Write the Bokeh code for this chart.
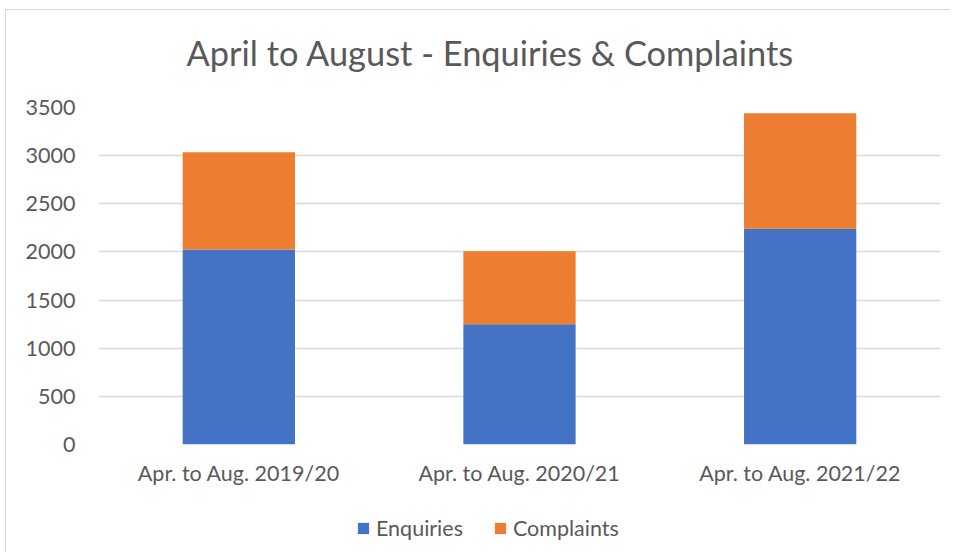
from bokeh.plotting import figure
from bokeh.layouts import column
from bokeh.models import FactorRange, Range1d, Legend, LegendItem, SingleIntervalTicker, Label
from bokeh.embed import file_html
from bokeh.resources import INLINE

title_text = "April to August - Enquiries & Complaints"
periods = ["Apr. to Aug. 2019/20", "Apr. to Aug. 2020/21", "Apr. to Aug. 2021/22"]
enquiries = [2025, 1250, 2240]
complaints = [1011, 757, 1200]
series = ["Enquiries", "Complaints"]
colors = ["#4472C4", "#ED7D31"]

FONT = "Lato"
TXT = "#595959"

data = {"periods": periods, "Enquiries": enquiries, "Complaints": complaints}

# title strip
t = figure(x_range=Range1d(0, 1), y_range=Range1d(0, 1),
           frame_width=944, frame_height=83, output_backend="svg", toolbar_location=None,
           x_axis_location=None, y_axis_location=None,
           min_border_left=0, min_border_right=0, min_border_top=0, min_border_bottom=0)
t.grid.visible = False
t.outline_line_color = None
t.add_layout(Label(x=88, y=41, x_units="screen", y_units="screen", text=title_text,
                   text_font=FONT, text_font_size="34.4px", text_color=TXT,
                   text_align="left", text_baseline="alphabetic"))

# main chart
p = figure(x_range=FactorRange(*periods), y_range=Range1d(0, 3500),
           frame_width=842, frame_height=337, output_backend="svg", toolbar_location=None,
           min_border_left=92, min_border_right=10, min_border_top=14, min_border_bottom=60)
p.x_range.range_padding = 0
p.vbar_stack(series, x="periods", width=0.4, color=colors, line_color=None, source=data)

p.outline_line_color = None
p.xgrid.grid_line_color = None
p.ygrid.grid_line_color = "#D9D9D9"
p.ygrid.grid_line_width = 1.5
p.yaxis.ticker = SingleIntervalTicker(interval=500)

for ax in (p.xaxis, p.yaxis):
    ax.axis_line_color = None
    ax.major_tick_line_color = None
    ax.minor_tick_line_color = None
    ax.major_tick_out = 0
    ax.major_tick_in = 0
    ax.minor_tick_out = 0
    ax.major_label_text_font = FONT
    ax.major_label_text_font_size = "21.5px"
    ax.major_label_text_color = TXT
p.yaxis.major_label_standoff = 23
p.xaxis.major_label_standoff = 15

# legend strip below the chart (same series, hidden renderers so only the legend shows)
q = figure(x_range=FactorRange(*periods), y_range=Range1d(0, 3500),
           frame_width=944, frame_height=48, output_backend="svg", toolbar_location=None,
           x_axis_location=None, y_axis_location=None,
           min_border_left=0, min_border_right=0, min_border_top=0, min_border_bottom=0)
q.x_range.range_padding = 0
rs = q.vbar_stack(series, x="periods", width=0.4, color=colors, line_color=None, source=data)
for r in rs:
    r.visible = False
q.grid.visible = False
q.outline_line_color = None

legend = Legend(items=[LegendItem(label=s, renderers=[r]) for s, r in zip(series, rs)],
                orientation="horizontal", location=(350, 11),
                label_text_font=FONT, label_text_font_size="21.5px", label_text_color=TXT,
                glyph_width=14, glyph_height=14, spacing=30, label_standoff=6,
                border_line_color=None, background_fill_alpha=0, margin=0, padding=0,
                inactive_fill_alpha=0)
q.add_layout(legend)

layout = column(t, p, q, spacing=0,
                styles={"margin-left": "5px", "margin-top": "9px",
                        "border-left": "1px solid #D9D9D9", "border-top": "1px solid #D9D9D9"})

open("out.html", "w").write(file_html(layout, INLINE))
